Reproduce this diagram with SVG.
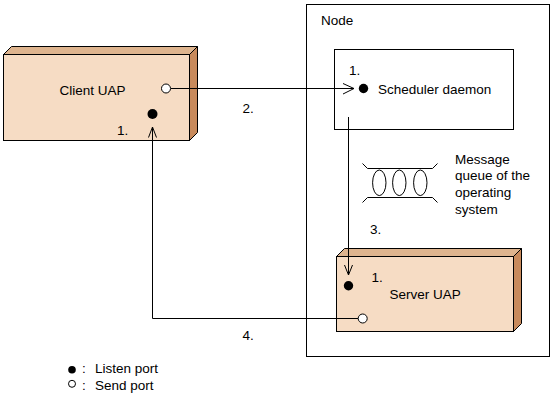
<svg xmlns="http://www.w3.org/2000/svg" width="552" height="406" viewBox="0 0 552 406">
<style>
text{font-family:"Liberation Sans",Arial,sans-serif;font-size:13.5px;fill:#000}
.ln{fill:none;stroke:#000;stroke-width:1}
.front{fill:#F6DCC4;stroke:#000;stroke-width:1}
.top{fill:#DEB48E;stroke:#000;stroke-width:1}
.side{fill:#C88A5C;stroke:#000;stroke-width:1}
.lp{fill:#000}
.sp{fill:#fff;stroke:#000;stroke-width:1}
</style>
<rect width="552" height="406" fill="#fff"/>
<g id="node-box">
<rect class="ln" x="306.5" y="4.5" width="243" height="352"/>
<text x="321" y="25">Node</text>
</g>
<g id="client-uap">
<polygon class="top" points="3.5,54.5 11.5,46.5 197.5,46.5 189.5,54.5"/>
<polygon class="side" points="189.5,54.5 197.5,46.5 197.5,132.5 189.5,140.5"/>
<rect class="front" x="3.5" y="54.5" width="186" height="86"/>
<text x="59.5" y="95">Client UAP</text>
<circle class="sp" cx="166" cy="88.5" r="4.5"/>
<circle class="lp" cx="152.5" cy="114" r="5"/>
<text x="117" y="135">1.</text>
</g>
<g id="scheduler-daemon">
<rect class="ln" x="334.5" y="49.5" width="179" height="80"/>
<text x="349" y="75">1.</text>
<circle class="lp" cx="363.5" cy="88.5" r="4.7"/>
<text x="378" y="93.5">Scheduler daemon</text>
</g>
<g id="message-queue">
<path class="ln" d="M362.5,163.5 L367.5,168.5 L432.5,168.5 L437.5,163.5 M362.5,202.5 L367.5,197.5 L432.5,197.5 L437.5,202.5"/>
<ellipse class="ln" cx="379.3" cy="182.8" rx="6.7" ry="12.8"/>
<ellipse class="ln" cx="399.3" cy="182.8" rx="6.7" ry="12.8"/>
<ellipse class="ln" cx="420.3" cy="182.8" rx="6.7" ry="12.8"/>
<text x="455" y="163.5">Message</text>
<text x="455" y="180">queue of the</text>
<text x="455" y="197">operating</text>
<text x="455" y="213.5">system</text>
</g>
<g id="server-uap">
<polygon class="top" points="336.5,256.5 344.5,248.5 521.5,248.5 513.5,256.5"/>
<polygon class="side" points="513.5,256.5 521.5,248.5 521.5,323.5 513.5,331.5"/>
<rect class="front" x="336.5" y="256.5" width="177" height="75"/>
<circle class="lp" cx="348.5" cy="285.7" r="4.7"/>
<text x="371.5" y="282">1.</text>
<text x="389.5" y="298.5">Server UAP</text>
<circle class="sp" cx="362.7" cy="318.5" r="4.5"/>
</g>
<g id="connectors">
<path class="ln" d="M171,88.5 H354"/>
<path class="ln" d="M343,83.5 L354,88.5 L343,94"/>
<path class="ln" d="M348.5,117 V275"/>
<path class="ln" d="M344.5,265 L348.5,275 L352.5,265"/>
<path class="ln" d="M358,318.5 H152.5 V127"/>
<path class="ln" d="M148.5,137.5 L152.5,127 L156.5,137.5"/>
<text x="242.5" y="112.5">2.</text>
<text x="370" y="234">3.</text>
<text x="242.5" y="339.5">4.</text>
</g>
<g id="legend">
<circle class="lp" cx="72" cy="369.7" r="3.8"/>
<text x="82" y="373.3">:</text>
<text x="95" y="373.3">Listen port</text>
<circle class="sp" cx="72" cy="383.8" r="3.5"/>
<text x="82" y="390">:</text>
<text x="95" y="390">Send port</text>
</g>
</svg>
